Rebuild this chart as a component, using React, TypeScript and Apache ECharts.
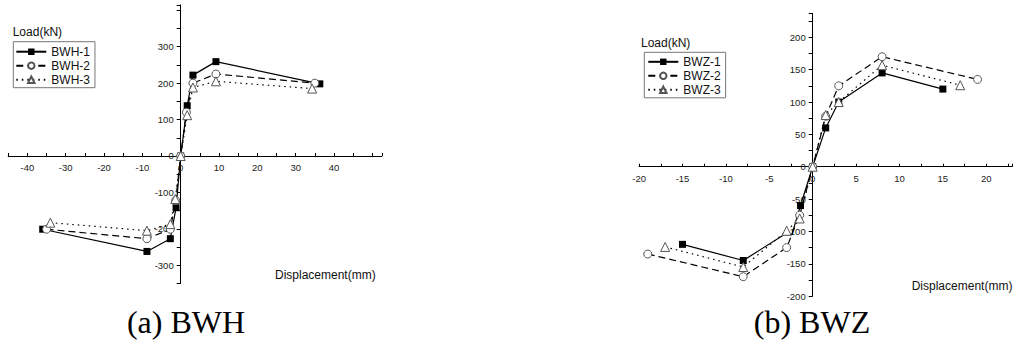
import React, { useEffect, useRef } from "react";
import * as echarts from "echarts";

// Displacement (mm), Load (kN)
const BWH1: [number, number][] = [
  [-36, -201], [-8.8, -262], [-2.7, -227], [-1.2, -142], [0, 0],
  [1.7, 138], [3.2, 222], [9.2, 259], [36.3, 198],
];
const BWH2: [number, number][] = [
  [-35, -201], [-8.8, -227], [-2.7, -201], [-1.3, -122], [0, 0],
  [1.5, 120], [3.2, 200], [9.2, 225], [35, 200],
];
const BWH3: [number, number][] = [
  [-34, -183], [-8.8, -205], [-2.7, -187], [-1.4, -118], [0, 0],
  [1.7, 112], [3.2, 188], [9.2, 205], [34.3, 185],
];
const BWZ1: [number, number][] = [
  [-15, -120], [-8, -145], [-3.3, -105], [-2.4, -105], [-1.4, -60], [0, 0],
  [1.5, 60], [3, 100], [8, 145], [15, 120],
];
// points of BWZ-1 drawn without a marker (flat part of the curve)
const BWZ1_NO_MARK = [2, 3];
const BWZ2: [number, number][] = [
  [-19, -135], [-8, -170], [-3, -125], [-1.5, -75], [0, 0],
  [1.5, 78], [3, 125], [8, 170], [19, 135],
];
const BWZ3: [number, number][] = [
  [-17, -124], [-8, -155], [-3, -99], [-1.5, -80], [0, 0],
  [1.5, 80], [3, 100], [8, 157], [17, 126],
];

const LEFT_NAMES = ["BWH-1", "BWH-2", "BWH-3"];
const RIGHT_NAMES = ["BWZ-1", "BWZ-2", "BWZ-3"];
const CAPTIONS = ["(a) BWH", "(b) BWZ"];
const Y_NAME = "Load(kN)";
const X_NAME = "Displacement(mm)";

// axis ranges: [min, max, tick interval, label step, label limit]
const LEFT_X: [number, number, number, number, number] = [-45, 52.5, 5, 10, 40];
const LEFT_Y: [number, number, number, number, number] = [-350, 415, 50, 100, 300];
const RIGHT_X: [number, number, number, number, number] = [-20, 23, 2.5, 5, 20];
const RIGHT_Y: [number, number, number, number, number] = [-200, 237, 25, 50, 200];

const SANS = '"Liberation Sans", Arial, sans-serif';
const SERIF = '"Liberation Serif", "Times New Roman", serif';

type Grid = { left: number; top: number; width: number; height: number };

function axisPair(
  gridIndex: number,
  grid: Grid,
  xr: [number, number, number, number, number],
  yr: [number, number, number, number, number]
) {
  const [xmin, xmax, xint, xlab, xlim] = xr;
  const [ymin, ymax, yint, ylab, ylim] = yr;
  // distance of the zero lines from the grid's bottom / left edges
  const zeroFromBottom = (grid.height * (0 - ymin)) / (ymax - ymin);
  const zeroFromLeft = (grid.width * (0 - xmin)) / (xmax - xmin);
  const labelStyle = { fontSize: 9.5, color: "#222", fontFamily: SANS };
  const x = {
    gridIndex,
    type: "value",
    position: "bottom",
    offset: -zeroFromBottom,
    min: xmin,
    max: xmax,
    interval: xint,
    axisLine: { onZero: false, lineStyle: { color: "#000", width: 1 } },
    axisTick: { inside: true, length: 3, lineStyle: { color: "#000" } },
    axisLabel: {
      ...labelStyle,
      margin: 7,
      showMinLabel: true,
      showMaxLabel: true,
      hideOverlap: false,
      formatter: (v: number) =>
        Math.abs(v % xlab) < 1e-9 && Math.abs(v) <= xlim ? String(v) : "",
    },
    splitLine: { show: false },
  };
  const y = {
    gridIndex,
    type: "value",
    position: "left",
    offset: -zeroFromLeft,
    min: ymin,
    max: ymax,
    interval: yint,
    axisLine: { onZero: false, lineStyle: { color: "#000", width: 1 } },
    axisTick: { inside: false, length: 4, lineStyle: { color: "#000" } },
    axisLabel: {
      ...labelStyle,
      margin: 7,
      hideOverlap: false,
      formatter: (v: number) =>
        Math.abs(v % ylab) < 1e-9 && Math.abs(v) <= ylim ? String(v) : "",
    },
    splitLine: { show: false },
  };
  return { x, y };
}

function makeSeries(name: string, data: any[], kind: number, axisIndex: number) {
  const base: any = {
    name,
    type: "line",
    xAxisIndex: axisIndex,
    yAxisIndex: axisIndex,
    data,
    showAllSymbol: true,
    clip: false,
  };
  if (kind === 0) {
    base.symbol = "rect";
    base.symbolSize = 7;
    base.lineStyle = { color: "#000", width: 1.2, type: "solid" };
    base.itemStyle = { color: "#000", borderColor: "#000", borderWidth: 0 };
  } else if (kind === 1) {
    base.symbol = "circle";
    base.symbolSize = 8;
    base.lineStyle = { color: "#000", width: 1.2, type: [7, 4] };
    base.itemStyle = { color: "#fff", borderColor: "#555", borderWidth: 1 };
  } else {
    base.symbol = "triangle";
    base.symbolSize = 9;
    base.lineStyle = { color: "#000", width: 1.2, type: [1.5, 4] };
    base.itemStyle = { color: "#fff", borderColor: "#555", borderWidth: 1 };
  }
  return base;
}

export default function App() {
  const ref = useRef<HTMLDivElement>(null);
  useEffect(() => {
    if (!ref.current) return;
    const chart = echarts.init(ref.current, null, { renderer: "svg" });
    const gridL: Grid = { left: 8.2, top: 4.8, width: 373.7, height: 278.7 };
    const gridR: Grid = { left: 639.1, top: 13.4, width: 373.2, height: 282.7 };
    const left = axisPair(0, gridL, LEFT_X, LEFT_Y);
    const right = axisPair(1, gridR, RIGHT_X, RIGHT_Y);

    const bwz1Data = BWZ1.map((p, i) =>
      BWZ1_NO_MARK.includes(i) ? { value: p, symbol: "none" } : p
    );

    const legendBase = {
      orient: "vertical",
      itemWidth: 30,
      itemHeight: 8,
      itemGap: 0,
      borderColor: "#777",
      borderWidth: 1,
      borderRadius: 0,
      textStyle: { fontSize: 12, lineHeight: 14, color: "#111", fontFamily: SANS },
    };

    const titleText = (text: string, x: number, y: number) => ({
      type: "text",
      x,
      y,
      style: {
        text,
        fontSize: 12,
        fontFamily: SANS,
        fill: "#111",
        align: "left",
        verticalAlign: "middle",
      },
    });

    const caption = (text: string, x: number) => ({
      type: "text",
      x,
      y: 322,
      style: {
        text,
        fontSize: 32,
        fontFamily: SERIF,
        fill: "#000",
        align: "center",
        verticalAlign: "middle",
      },
    });

    const option: any = {
      animation: false,
      backgroundColor: "#fff",
      grid: [
        { ...gridL, containLabel: false, outerBoundsMode: "none" },
        { ...gridR, containLabel: false, outerBoundsMode: "none" },
      ],
      xAxis: [left.x, right.x],
      yAxis: [left.y, right.y],
      legend: [
        {
          ...legendBase,
          data: LEFT_NAMES,
          left: 13.3,
          top: 41.7,
          padding: [3, 5, 1, 2],
        },
        {
          ...legendBase,
          data: RIGHT_NAMES,
          left: 644.3,
          top: 52.3,
          padding: [2.5, 5, 1, 3],
        },
      ],
      series: [
        makeSeries(LEFT_NAMES[0], BWH1, 0, 0),
        makeSeries(LEFT_NAMES[1], BWH2, 1, 0),
        makeSeries(LEFT_NAMES[2], BWH3, 2, 0),
        makeSeries(RIGHT_NAMES[0], bwz1Data, 0, 1),
        makeSeries(RIGHT_NAMES[1], BWZ2, 1, 1),
        makeSeries(RIGHT_NAMES[2], BWZ3, 2, 1),
      ],
      graphic: [
        titleText(Y_NAME, 12.7, 31.7),
        titleText(X_NAME, 275, 275),
        titleText(Y_NAME, 641, 43.3),
        titleText(X_NAME, 911.7, 286),
        caption(CAPTIONS[0], 186),
        caption(CAPTIONS[1], 812),
      ],
    };
    chart.setOption(option);
    return () => chart.dispose();
  }, []);
  return (
    <div
      ref={ref}
      style={{ position: "absolute", left: 0, top: 0, width: 1013, height: 345 }}
    />
  );
}
